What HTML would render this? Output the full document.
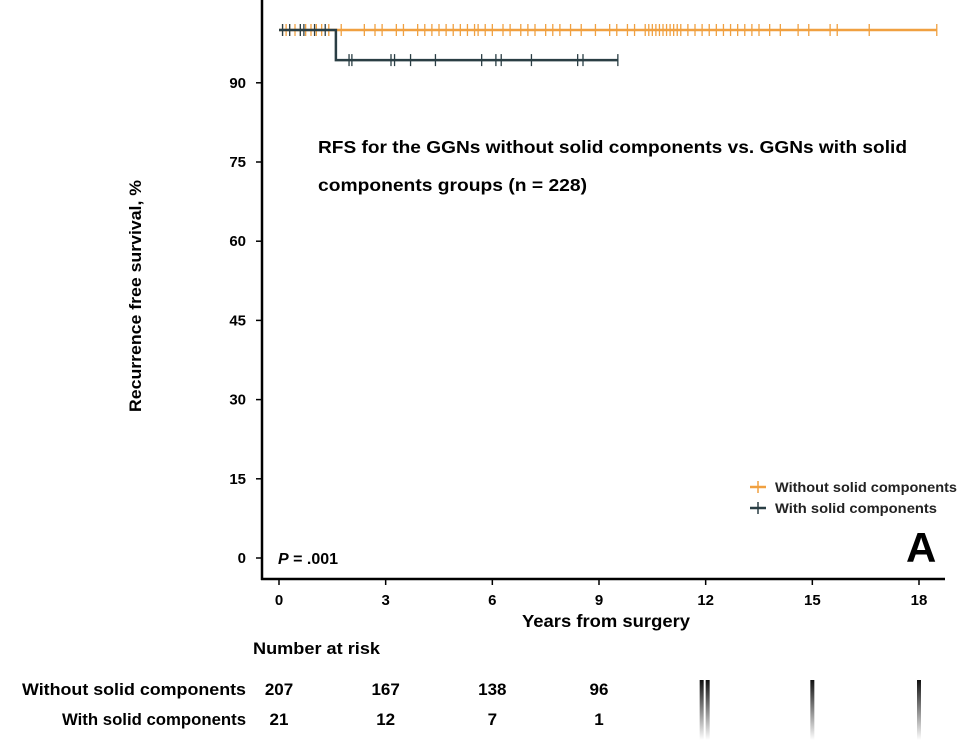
<!DOCTYPE html>
<html><head><meta charset="utf-8"><style>
body{margin:0;background:#fff;width:969px;height:748px;overflow:hidden;font-family:"Liberation Sans",Arial,sans-serif}
svg text{font-family:"Liberation Sans",Arial,sans-serif;font-weight:bold}
</style></head><body>
<svg id="chart" width="969" height="748" viewBox="0 0 969 748" xmlns="http://www.w3.org/2000/svg">
<g id="axes"></g>
<g id="series"></g>
<text x="318" y="153" font-size="17.5" textLength="589" lengthAdjust="spacingAndGlyphs">RFS for the GGNs without solid components vs. GGNs with solid</text>
<text x="318" y="191" font-size="17.5" textLength="269" lengthAdjust="spacingAndGlyphs">components groups (n = 228)</text>
<text x="278" y="564" font-size="16"><tspan font-style="italic">P</tspan> = .001</text>
<text x="906" y="562" font-size="42">A</text>
<g>
<g><line x1="750" y1="487" x2="766" y2="487" stroke="#f0a040" stroke-width="2.5"/><line x1="758" y1="481" x2="758" y2="493" stroke="#f0a040" stroke-width="1.5"/><text x="775" y="492" font-size="14" textLength="182" lengthAdjust="spacingAndGlyphs" fill="#222">Without solid components</text></g>
<g><line x1="750" y1="508" x2="766" y2="508" stroke="#2a3e44" stroke-width="2.5"/><line x1="758" y1="502" x2="758" y2="514" stroke="#2a3e44" stroke-width="1.5"/><text x="775" y="513" font-size="14" textLength="162" lengthAdjust="spacingAndGlyphs" fill="#222">With solid components</text></g>
</g>
<text x="141" y="296" font-size="17" transform="rotate(-90 141 296)" text-anchor="middle" textLength="232" lengthAdjust="spacingAndGlyphs">Recurrence free survival, %</text>
<text x="606" y="627" font-size="17.5" text-anchor="middle" textLength="168" lengthAdjust="spacingAndGlyphs">Years from surgery</text>
<text x="253" y="654" font-size="16.5" textLength="127" lengthAdjust="spacingAndGlyphs">Number at risk</text>
<g id="risk"></g>
<defs><linearGradient id="fade" x1="0" y1="0" x2="0" y2="1"><stop offset="0" stop-color="#111"/><stop offset="1" stop-color="#fff"/></linearGradient></defs>
</svg>
<script>
const xTicks=[0,3,6,9,12,15,18];
const yTicks=[0,15,30,45,60,75,90];
const groups=["Without solid components","With solid components"];
const riskWithout=[207,167,138,96];
const riskWith=[21,12,7,1];
const orangeEnd=18.5;
const orangeCensor=[0.1,0.2,0.3,0.45,0.6,0.75,0.9,1.05,1.2,1.4,1.75,2.4,2.7,2.9,3.3,3.5,3.9,4.1,4.3,4.5,4.7,4.9,5.1,5.3,5.5,5.6,5.8,6.0,6.3,6.5,6.8,7.0,7.2,7.5,7.7,7.9,8.2,8.5,8.9,9.3,9.5,9.8,10.0,10.3,10.4,10.5,10.6,10.7,10.8,10.9,11.0,11.1,11.2,11.3,11.5,11.7,11.9,12.1,12.3,12.5,12.7,12.9,13.1,13.3,13.5,13.8,14.1,14.6,14.9,15.5,15.7,16.6];
const darkDropTime=1.6;
const darkSurv=[100,94.3];
const darkEnd=9.53;
const darkCensorBefore=[0.1,0.3,0.6,0.7,1.0,1.3];
const darkCensorAfter=[1.97,2.05,3.15,3.25,3.7,4.4,5.7,6.1,6.25,7.1,8.4,8.55];
const NS="http://www.w3.org/2000/svg";
const X=t=>279+t*(640/18);
const Y=v=>558-v*(79.2/15);
function mk(tag,attrs,parent){const e=document.createElementNS(NS,tag);for(const k in attrs)e.setAttribute(k,attrs[k]);parent.appendChild(e);return e;}
const axes=document.getElementById('axes'),ser=document.getElementById('series'),risk=document.getElementById('risk');
let a=mk('line',{x1:262,y1:0,x2:262,y2:580,stroke:'#000','stroke-width':2.5},axes);

a=mk('line',{x1:261,y1:579,x2:945,y2:579,stroke:'#000','stroke-width':2.5},axes);

yTicks.forEach(v=>{mk('line',{x1:256,y1:Y(v),x2:262,y2:Y(v),stroke:'#000','stroke-width':1.5},axes);
 const t=mk('text',{x:246,y:Y(v)+5,'font-size':15,'text-anchor':'end'},axes);t.textContent=v;
 });
xTicks.forEach(v=>{mk('line',{x1:X(v),y1:579,x2:X(v),y2:585,stroke:'#000','stroke-width':1.5},axes);
 const t=mk('text',{x:X(v),y:605,'font-size':15,'text-anchor':'middle'},axes);t.textContent=v;
 });
const OR='#f0a040',DK='#2a3e44';
let l=mk('line',{x1:X(0),y1:Y(100),x2:X(orangeEnd),y2:Y(100),stroke:OR,'stroke-width':2.5},ser);

orangeCensor.concat([orangeEnd]).forEach(t=>{const c=mk('line',{x1:X(t),y1:Y(100)-6,x2:X(t),y2:Y(100)+6,stroke:OR,'stroke-width':1.3},ser);
 });
l=mk('path',{d:`M${X(0)},${Y(darkSurv[0])}H${X(darkDropTime)}V${Y(darkSurv[1])}H${X(darkEnd)}`,stroke:DK,'stroke-width':2.5,fill:'none'},ser);

darkCensorBefore.forEach(t=>{const c=mk('line',{x1:X(t),y1:Y(darkSurv[0])-6,x2:X(t),y2:Y(darkSurv[0])+6,stroke:DK,'stroke-width':1.3},ser);
 });
darkCensorAfter.concat([darkEnd]).forEach(t=>{const c=mk('line',{x1:X(t),y1:Y(darkSurv[1])-6,x2:X(t),y2:Y(darkSurv[1])+6,stroke:DK,'stroke-width':1.3},ser);
 });
[riskWithout,riskWith].forEach((arr,i)=>{const y=i?725:695;
 const lab=mk('text',{x:246,y:y,'font-size':17,'text-anchor':'end',textLength:i?184:224,lengthAdjust:'spacingAndGlyphs'},risk);lab.textContent=groups[i];
 
 arr.forEach((v,j)=>{const t=mk('text',{x:X(xTicks[j]),y:y,'font-size':17,'text-anchor':'middle'},risk);t.textContent=v;
  });});
[[X(12)-4,X(12)+2],[X(15)],[X(18)]].forEach(xs=>xs.forEach(x=>{const r=mk('rect',{x:x-2,y:680,width:4,height:60,fill:'url(#fade)'},risk);
 }));
</script>
</body></html>
